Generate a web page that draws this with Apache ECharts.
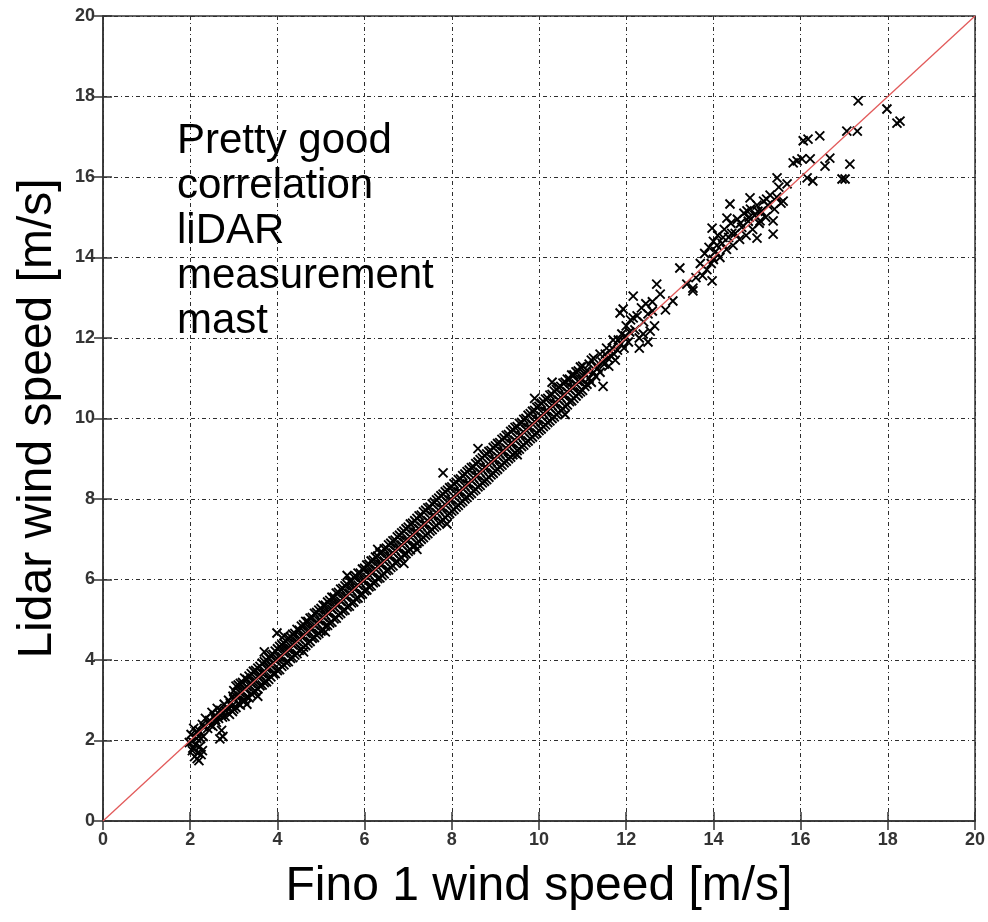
<!DOCTYPE html>
<html>
<head>
<meta charset="utf-8">
<script src="https://cdn.jsdelivr.net/npm/echarts@6/dist/echarts.min.js"></script>
<style>
html,body{margin:0;padding:0;background:#fff;}
#chart{width:988px;height:922px;}
</style>
</head>
<body>
<div id="chart"></div>
<script>
// ---- data ----
const xTitle = 'Fino 1 wind speed [m/s]';
const yTitle = 'Lidar wind speed [m/s]';
const noteLines = ['Pretty good', 'correlation', 'liDAR', 'measurement', 'mast'];
const axisMin = 0, axisMax = 20, axisStep = 2;

const refLine = [[0, 0], [20, 20]];

const lowPoints = [
[1.98,1.95],[2.02,2.15],[2.05,1.75],[2.06,1.81],[2.08,2.3],[2.1,1.6],[2.12,1.9],[2.15,2.05],[2.18,1.7],[2.2,2.25],[2.2,1.5],
[2.22,1.85],[2.25,1.65],[2.28,2.4],[2.3,2.1],[2.35,2.55],[2.4,2.3],[2.45,2.5],[2.5,2.7],[2.52,2.35],[2.55,2.6],[2.57,2.62],
[2.6,2.45],[2.62,2.8],[2.65,2.55],[2.68,2.04],[2.7,2.75],[2.72,2.25],[2.75,2.1],[2.78,2.9],[2.8,2.6],[2.85,2.8],[2.88,3.0],
[2.9,2.65],[2.95,2.85],[2.98,3.1],[2.04,1.98],[2.14,2.2],[2.24,2.05],[2.32,2.32],[2.42,2.42],[2.48,2.38],[2.58,2.52],
[2.66,2.66],[2.74,2.58],[2.82,2.74],[2.92,2.92],[2.97,2.72],[2.16,1.55],[2.28,1.75]
];

const midPoints = [
[3.0,2.78],[3.0,3.02],[3.0,3.24],[3.1,2.92],[3.1,3.12],[3.1,3.38],[3.2,2.98],[3.2,3.22],[3.2,3.44],
[3.3,3.08],[3.3,3.34],[3.3,3.52],[3.4,3.16],[3.4,3.42],[3.4,3.66],[3.5,3.22],[3.5,3.48],[3.5,3.74],
[3.6,3.36],[3.6,3.62],[3.6,3.84],[3.7,3.44],[3.7,3.68],[3.7,3.96],[3.8,3.52],[3.8,3.82],[3.8,4.06],
[3.9,3.66],[3.9,3.92],[3.9,4.14],[4.0,3.74],[4.0,4.02],[4.0,4.28],[4.1,3.84],[4.1,4.08],[4.1,4.38],
[4.2,3.94],[4.2,4.22],[4.2,4.46],[4.3,4.04],[4.3,4.28],[4.3,4.58],[4.4,4.12],[4.4,4.42],[4.4,4.66],
[4.5,4.24],[4.5,4.52],[4.5,4.74],[4.6,4.32],[4.6,4.58],[4.6,4.88],[4.7,4.42],[4.7,4.72],[4.7,4.96],
[4.8,4.54],[4.8,4.78],[4.8,5.06],[4.9,4.62],[4.9,4.92],[4.9,5.18],[5.0,4.72],[5.0,4.98],[5.0,5.28],
[5.1,4.84],[5.1,5.12],[5.1,5.36],[5.2,4.92],[5.2,5.18],[5.2,5.48],[5.3,5.02],[5.3,5.32],[5.3,5.56],
[5.4,5.12],[5.4,5.38],[5.4,5.68],[5.5,5.22],[5.5,5.52],[5.5,5.78],[5.6,5.32],[5.6,5.58],[5.6,5.88],
[5.7,5.42],[5.7,5.72],[5.7,5.96],[5.8,5.52],[5.8,5.78],[5.8,6.08],[5.9,5.62],[5.9,5.92],[5.9,6.16],
[6.0,5.72],[6.0,5.98],[6.0,6.28],[6.1,5.82],[6.1,6.12],[6.1,6.38],[6.2,5.92],[6.2,6.18],[6.2,6.48],
[6.3,6.02],[6.3,6.32],[6.3,6.58],[6.4,6.1],[6.4,6.38],[6.4,6.68],[6.5,6.22],[6.5,6.52],[6.5,6.78],
[6.6,6.3],[6.6,6.58],[6.6,6.9],[6.7,6.42],[6.7,6.72],[6.7,6.98],[6.8,6.5],[6.8,6.78],[6.8,7.1],
[6.9,6.62],[6.9,6.92],[6.9,7.2],[7.0,6.7],[7.0,6.98],[7.0,7.3],[7.1,6.82],[7.1,7.12],[7.1,7.4],
[7.2,6.9],[7.2,7.18],[7.2,7.52],[7.3,7.0],[7.3,7.32],[7.3,7.6],[7.4,7.1],[7.4,7.38],[7.4,7.72],
[7.5,7.2],[7.5,7.52],[7.5,7.8],[7.6,7.3],[7.6,7.58],[7.6,7.92],[7.7,7.4],[7.7,7.72],[7.7,8.02],
[7.8,7.48],[7.8,7.78],[7.8,8.12],[7.9,7.6],[7.9,7.92],[7.9,8.22],[8.0,7.7],[8.0,7.98],[8.0,8.3],
[8.1,7.8],[8.1,8.12],[8.1,8.42],[8.2,7.9],[8.2,8.18],[8.2,8.5],[8.3,8.0],[8.3,8.32],[8.3,8.62],
[8.4,8.1],[8.4,8.38],[8.4,8.72],[8.5,8.2],[8.5,8.52],[8.5,8.8],[8.6,8.3],[8.6,8.58],[8.6,8.92],
[8.7,8.4],[8.7,8.72],[8.7,9.02],[8.8,8.48],[8.8,8.78],[8.8,9.12],[8.9,8.6],[8.9,8.92],[8.9,9.2],
[9.0,8.7],[9.0,8.98],[9.0,9.32],[9.1,8.8],[9.1,9.12],[9.1,9.4],[9.2,8.9],[9.2,9.18],[9.2,9.52],
[9.3,9.0],[9.3,9.32],[9.3,9.6],[9.4,9.1],[9.4,9.38],[9.4,9.72],[9.5,9.2],[9.5,9.52],[9.5,9.8],
[9.6,9.3],[9.6,9.58],[9.6,9.9],[9.7,9.4],[9.7,9.72],[9.7,10.0],[9.8,9.5],[9.8,9.78],[9.8,10.12],
[9.9,9.6],[9.9,9.92],[9.9,10.2],[10.0,9.7],[10.0,9.98],[10.0,10.3],[10.1,9.8],[10.1,10.12],[10.1,10.42],
[10.2,9.9],[10.2,10.18],[10.2,10.5],[10.3,10.0],[10.3,10.32],[10.3,10.6],[10.4,10.1],[10.4,10.38],[10.4,10.72],
[10.5,10.2],[10.5,10.52],[10.5,10.8],[10.6,10.3],[10.6,10.58],[10.6,10.9],[10.7,10.42],[10.7,10.72],[10.7,10.98],
[10.8,10.5],[10.8,10.78],[10.8,11.08],[10.9,10.62],[10.9,10.92],[10.9,11.18],[11.0,10.7],[11.0,10.98],[11.0,11.3]
];

const midPointsB = [
[3.05,2.82],[3.05,3.1],[3.05,3.35],[3.15,2.88],[3.15,3.18],[3.15,3.42],[3.25,3.0],[3.25,3.28],[3.25,3.55],
[3.35,3.06],[3.35,3.38],[3.35,3.6],[3.45,3.2],[3.45,3.45],[3.45,3.72],[3.55,3.28],[3.55,3.58],[3.55,3.8],
[3.65,3.38],[3.65,3.66],[3.65,3.92],[3.75,3.46],[3.75,3.78],[3.75,4.0],[3.85,3.58],[3.85,3.86],[3.85,4.12],
[3.95,3.66],[3.95,3.98],[3.95,4.22],[4.05,3.76],[4.05,4.06],[4.05,4.34],[4.15,3.88],[4.15,4.18],[4.15,4.42],
[4.25,3.96],[4.25,4.26],[4.25,4.55],[4.35,4.06],[4.35,4.38],[4.35,4.64],[4.45,4.16],[4.45,4.46],[4.45,4.76],
[4.55,4.26],[4.55,4.58],[4.55,4.84],[4.65,4.36],[4.65,4.66],[4.65,4.96],[4.75,4.46],[4.75,4.78],[4.75,5.04],
[4.85,4.56],[4.85,4.86],[4.85,5.16],[4.95,4.66],[4.95,4.98],[4.95,5.24],[5.05,4.74],[5.05,5.06],[5.05,5.36],
[5.15,4.86],[5.15,5.18],[5.15,5.44],[5.25,4.94],[5.25,5.26],[5.25,5.56],[5.35,5.04],[5.35,5.38],[5.35,5.66],
[5.45,5.16],[5.45,5.46],[5.45,5.76],[5.55,5.24],[5.55,5.58],[5.55,5.84],[5.65,5.34],[5.65,5.66],[5.65,5.96],
[5.75,5.44],[5.75,5.78],[5.75,6.06],[5.85,5.54],[5.85,5.86],[5.85,6.16],[5.95,5.64],[5.95,5.98],[5.95,6.26],
[6.05,5.74],[6.05,6.06],[6.05,6.36],[6.15,5.84],[6.15,6.18],[6.15,6.46],[6.25,5.94],[6.25,6.26],[6.25,6.56],
[6.35,6.04],[6.35,6.38],[6.35,6.66],[6.45,6.14],[6.45,6.46],[6.45,6.76],[6.55,6.24],[6.55,6.58],[6.55,6.86],
[6.65,6.34],[6.65,6.66],[6.65,6.96],[6.75,6.44],[6.75,6.78],[6.75,7.06],[6.85,6.54],[6.85,6.86],[6.85,7.16],
[6.95,6.64],[6.95,6.98],[6.95,7.26],[7.05,6.74],[7.05,7.06],[7.05,7.38],[7.15,6.84],[7.15,7.18],[7.15,7.46],
[7.25,6.94],[7.25,7.26],[7.25,7.58],[7.35,7.04],[7.35,7.38],[7.35,7.68],[7.45,7.14],[7.45,7.46],[7.45,7.78],
[7.55,7.24],[7.55,7.58],[7.55,7.88],[7.65,7.34],[7.65,7.66],[7.65,7.98],[7.75,7.44],[7.75,7.78],[7.75,8.08],
[7.85,7.54],[7.85,7.86],[7.85,8.18],[7.95,7.64],[7.95,7.98],[7.95,8.28],[8.05,7.74],[8.05,8.06],[8.05,8.38],
[8.15,7.84],[8.15,8.18],[8.15,8.48],[8.25,7.94],[8.25,8.26],[8.25,8.58],[8.35,8.04],[8.35,8.38],[8.35,8.68],
[8.45,8.14],[8.45,8.46],[8.45,8.78],[8.55,8.24],[8.55,8.58],[8.55,8.88],[8.65,8.34],[8.65,8.66],[8.65,8.98],
[8.75,8.44],[8.75,8.78],[8.75,9.08],[8.85,8.54],[8.85,8.86],[8.85,9.18],[8.95,8.64],[8.95,8.98],[8.95,9.28],
[9.05,8.74],[9.05,9.06],[9.05,9.38],[9.15,8.84],[9.15,9.18],[9.15,9.48],[9.25,8.94],[9.25,9.26],[9.25,9.58],
[9.35,9.04],[9.35,9.38],[9.35,9.68],[9.45,9.14],[9.45,9.46],[9.45,9.78],[9.55,9.24],[9.55,9.58],[9.55,9.88],
[9.65,9.34],[9.65,9.66],[9.65,9.98],[9.75,9.44],[9.75,9.78],[9.75,10.08],[9.85,9.54],[9.85,9.86],[9.85,10.18],
[9.95,9.64],[9.95,9.98],[9.95,10.28],[10.05,9.74],[10.05,10.06],[10.05,10.38],[10.15,9.84],[10.15,10.18],[10.15,10.48],
[10.25,9.94],[10.25,10.26],[10.25,10.58],[10.35,10.04],[10.35,10.38],[10.35,10.68],[10.45,10.14],[10.45,10.46],[10.45,10.78],
[10.55,10.24],[10.55,10.58],[10.55,10.88],[10.65,10.34],[10.65,10.66],[10.65,10.98],[10.75,10.44],[10.75,10.78],[10.75,11.08],
[10.85,10.56],[10.85,10.86],[10.85,11.16],[10.95,10.66],[10.95,10.98],[10.95,11.28]
];

const midOutliers = [
[3.3,2.9],[3.55,3.1],[3.7,4.2],[3.99,4.67],[4.15,4.6],[4.6,4.2],[5.1,4.7],[5.6,6.1],[6.3,6.75],
[6.9,6.4],[7.2,6.75],[7.8,8.65],[7.89,7.38],[8.6,9.25],[9.5,9.1],[9.9,10.5],[10.3,10.9],[10.6,10.1]
];

const upperPoints = [
[11.1,10.85],[11.1,11.2],[11.2,10.9],[11.2,11.45],[11.3,11.05],[11.3,11.3],[11.4,11.15],[11.4,11.6],
[11.05,10.8],[11.05,11.1],[11.15,11.0],[11.15,11.35],[11.25,11.15],[11.25,11.5],[11.35,11.25],[11.45,11.4],
[11.47,10.8],[11.5,11.35],[11.55,11.75],[11.6,11.3],[11.65,11.55],[11.7,11.95],[11.75,11.45],[11.8,11.7],
[11.52,11.6],[11.58,11.5],[11.68,11.75],[11.72,11.6],[11.82,11.95],[11.88,11.85],[11.98,12.05],[12.08,12.15],
[11.86,12.62],[11.9,12.1],[11.93,12.72],[11.95,11.75],[12.0,12.3],[12.05,11.9],[12.1,12.45],[12.16,13.04],
[12.16,12.5],[12.2,12.2],[12.25,12.55],[12.3,12.0],[12.3,11.75],[12.35,12.75],[12.39,12.1],[12.4,12.4],
[12.45,12.85],[12.5,11.9],[12.5,12.6],[12.55,12.17],[12.6,12.67],[12.6,12.9],[12.65,12.3],[12.7,13.34],
[12.78,13.09],[12.9,12.7],[13.07,12.92],[13.23,13.74],[13.39,13.34],[13.53,13.17],[13.53,13.24],[13.97,13.42],
[13.6,13.5],[13.7,13.85],[13.75,13.55],[13.8,14.1],[13.85,13.7],[13.9,14.25],[13.95,13.85],[13.97,14.73],
[14.0,14.4],[14.0,13.95],[14.05,14.15],[14.1,14.55],[14.15,14.0],[14.2,14.35],[14.25,14.7],[14.3,14.2],
[14.31,14.98],[14.35,14.5],[14.38,15.33],[14.4,14.85],[14.45,14.3],[14.5,14.6],[14.55,14.95],[14.6,14.45],
[14.65,14.75],[14.7,15.1],[14.75,14.55],[14.77,15.16],[14.8,14.9],[14.84,15.48],[14.85,15.2],[14.9,14.7],
[14.95,15.05],[15.0,15.3],[15.0,14.48],[15.05,14.85],[15.07,14.91],[15.1,15.15],[15.15,15.4],[15.2,15.0],
[15.25,15.3],[15.3,15.55],[15.37,14.58],[15.37,14.91],[15.4,15.2],[15.45,15.5],[15.46,15.98],[15.5,15.75],
[15.55,15.35],[15.6,15.4],[15.69,15.83],[14.08,14.3],[14.22,14.5],[14.42,14.6],[14.62,14.85],[14.82,15.0],
[15.02,15.15],[15.22,15.45]
];

const topPoints = [
[15.83,16.35],[15.92,16.4],[16.03,16.45],[16.06,16.9],[16.15,15.98],[16.17,16.94],[16.22,16.45],[16.28,15.9],
[16.44,17.02],[16.56,16.27],[16.67,16.47],[16.95,15.95],[17.02,15.95],[17.06,17.14],[17.13,16.32],[17.3,17.14],
[17.32,17.89],[17.98,17.69],[18.21,17.34],[18.28,17.39]
];

const allPoints = lowPoints.concat(midPoints, midPointsB, midOutliers, upperPoints, topPoints);

// ---- chart ----
const chart = echarts.init(document.getElementById('chart'), null, {renderer: 'canvas'});
const FONT = "'Liberation Sans', Arial, Helvetica, sans-serif";
const gridLine = {show: true, lineStyle: {color: '#2e2e2e', width: 1, type: [4, 3, 1, 3]}};
const tickLabel = {color: '#333', fontSize: 18, fontWeight: 'bold', fontFamily: FONT};

chart.setOption({
  backgroundColor: '#fff',
  animation: false,
  grid: {left: 103, right: 13, top: 16, bottom: 101, show: true, borderColor: '#333', borderWidth: 1.5,
         containLabel: false, outerBoundsMode: 'none'},
  xAxis: [{
    type: 'value', min: axisMin, max: axisMax, interval: axisStep, position: 'bottom',
    name: xTitle, nameLocation: 'middle', nameGap: 42,
    nameTextStyle: {fontSize: 48, color: '#000', fontFamily: FONT},
    axisLine: {show: true, onZero: false, lineStyle: {color: '#333', width: 1.5}},
    axisTick: {show: true, inside: true, length: 9, lineStyle: {color: '#333', width: 1.5}},
    axisLabel: Object.assign({margin: 10}, tickLabel),
    splitLine: gridLine
  }, {
    type: 'value', min: axisMin, max: axisMax, interval: axisStep, position: 'top',
    axisLine: {show: false}, axisLabel: {show: false}, splitLine: {show: false},
    axisTick: {show: true, inside: true, length: 9, lineStyle: {color: '#333', width: 1.5}}
  }],
  yAxis: [{
    type: 'value', min: axisMin, max: axisMax, interval: axisStep, position: 'left',
    name: yTitle, nameLocation: 'middle', nameGap: 41,
    nameTextStyle: {fontSize: 48, color: '#000', fontFamily: FONT},
    axisLine: {show: true, onZero: false, lineStyle: {color: '#333', width: 1.5}},
    axisTick: {show: true, inside: true, length: 9, lineStyle: {color: '#333', width: 1.5}},
    axisLabel: Object.assign({margin: 8}, tickLabel),
    splitLine: gridLine
  }, {
    type: 'value', min: axisMin, max: axisMax, interval: axisStep, position: 'right',
    axisLine: {show: false}, axisLabel: {show: false}, splitLine: {show: false},
    axisTick: {show: true, inside: true, length: 9, lineStyle: {color: '#333', width: 1.5}}
  }],
  graphic: [{
    type: 'text', left: 177, top: 119, z: 100,
    style: {text: noteLines.join('\n'), fontSize: 42, lineHeight: 45, fill: '#000', fontFamily: FONT}
  }],
  series: [{
    type: 'scatter', xAxisIndex: 0, yAxisIndex: 0,
    data: allPoints,
    symbol: 'path://M0,0L10,10M10,0L0,10',
    symbolSize: 9,
    itemStyle: {color: 'rgba(0,0,0,0)', borderColor: '#000', borderWidth: 1.9, opacity: 1},
    z: 2
  }, {
    type: 'line', xAxisIndex: 0, yAxisIndex: 0,
    data: refLine, symbol: 'none',
    lineStyle: {color: '#e25a5a', width: 1.3},
    z: 3
  }]
});
</script>
</body>
</html>
